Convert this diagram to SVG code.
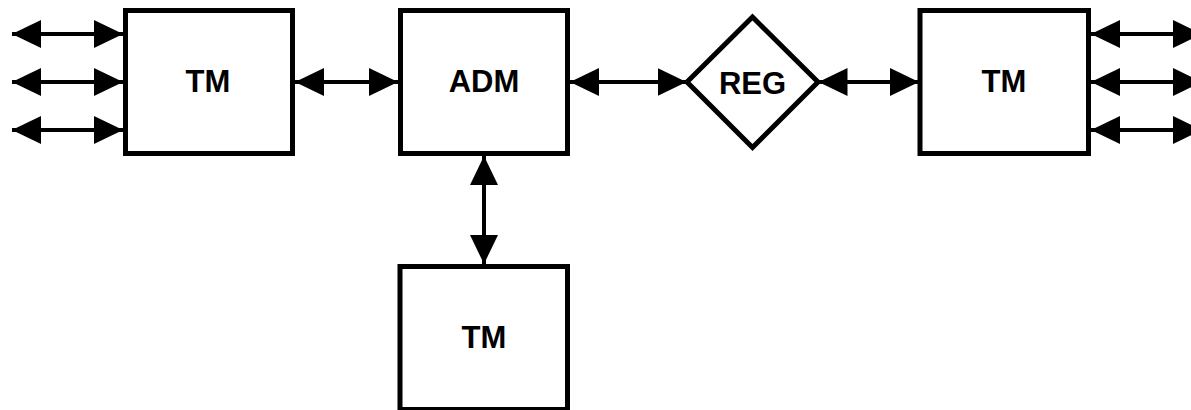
<svg xmlns="http://www.w3.org/2000/svg" width="1191" height="410" viewBox="0 0 1191 410">
<style>
.box{fill:#fff;stroke:#000;stroke-width:5}
.lbl{font-family:"Liberation Sans",Arial,sans-serif;font-weight:bold;font-size:31px;fill:#000;text-anchor:middle}
.ln{stroke:#000;stroke-width:4;fill:none}
.ah{fill:#000}
</style>
<defs>
<marker id="arr" viewBox="0 0 29 28" refX="29" refY="14" markerWidth="29" markerHeight="28" markerUnits="userSpaceOnUse" orient="auto-start-reverse">
<path d="M0,0 L29,14 L0,28 Z" class="ah"/>
</marker>
</defs>
<g id="connectors">
<line class="ln" x1="12" y1="34" x2="123" y2="34" marker-start="url(#arr)" marker-end="url(#arr)"/>
<line class="ln" x1="12" y1="82" x2="123" y2="82" marker-start="url(#arr)" marker-end="url(#arr)"/>
<line class="ln" x1="12" y1="130" x2="123" y2="130" marker-start="url(#arr)" marker-end="url(#arr)"/>
<line class="ln" x1="295" y1="82" x2="398" y2="82" marker-start="url(#arr)" marker-end="url(#arr)"/>
<line class="ln" x1="570" y1="82" x2="686.5" y2="82" marker-start="url(#arr)" marker-end="url(#arr)"/>
<line class="ln" x1="818.5" y1="82" x2="919" y2="82" marker-start="url(#arr)" marker-end="url(#arr)"/>
<line class="ln" x1="484" y1="156" x2="484" y2="264" marker-start="url(#arr)" marker-end="url(#arr)"/>
<line class="ln" x1="1091" y1="34" x2="1202" y2="34" marker-start="url(#arr)" marker-end="url(#arr)"/>
<line class="ln" x1="1091" y1="82" x2="1202" y2="82" marker-start="url(#arr)" marker-end="url(#arr)"/>
<line class="ln" x1="1091" y1="130" x2="1202" y2="130" marker-start="url(#arr)" marker-end="url(#arr)"/>
</g>
<g id="tm-left">
<rect class="box" x="125.5" y="10.5" width="167" height="143"/>
<text class="lbl" x="208" y="92">TM</text>
</g>
<g id="adm">
<rect class="box" x="400.5" y="10.5" width="167" height="143"/>
<text class="lbl" x="484" y="92">ADM</text>
</g>
<g id="reg">
<polygon class="box" points="752.5,17 818,82 752.5,147.5 687,82"/>
<text class="lbl" x="752.5" y="94">REG</text>
</g>
<g id="tm-right">
<rect class="box" x="920" y="10.5" width="168.5" height="143"/>
<text class="lbl" x="1004" y="92">TM</text>
</g>
<g id="tm-bottom">
<rect class="box" x="400" y="266.5" width="167.5" height="143"/>
<text class="lbl" x="484" y="348">TM</text>
</g>
</svg>
